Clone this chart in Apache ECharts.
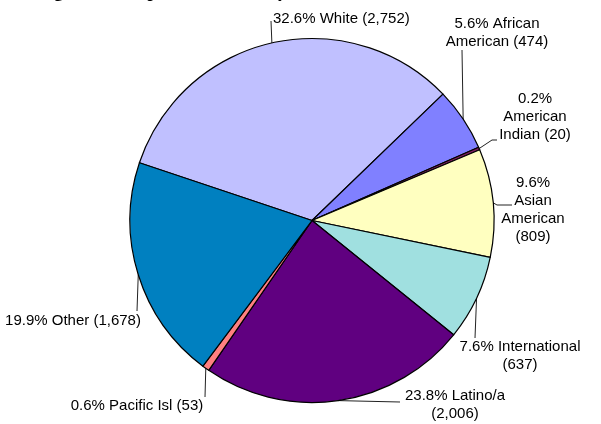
<!DOCTYPE html>
<html>
<head>
<meta charset="utf-8">
<script src="https://cdn.jsdelivr.net/npm/echarts@6/dist/echarts.min.js"></script>
<style>
html,body{margin:0;padding:0;background:#fff;}
#chart{width:601px;height:424px;}
</style>
</head>
<body>
<div id="chart"></div>
<script>
// ---- data ----
const titleText = 'Undergraduate Population Ethnicity';
const categories = ['White', 'African American', 'American Indian', 'Asian American', 'International', 'Latino/a', 'Pacific Isl', 'Other'];
const counts = [2752, 474, 20, 809, 637, 2006, 53, 1678];
const labelTemplates = [
  '{p}% White ({v})',
  '{p}% African\nAmerican ({v})',
  '{p}%\nAmerican\nIndian ({v})',
  '{p}%\nAsian\nAmerican\n({v})',
  '{p}% International\n({v})',
  '{p}% Latino/a\n({v})',
  '{p}% Pacific Isl ({v})',
  '{p}% Other ({v})'
];
const colors = ['#C0C0FF', '#8080FF', '#802060', '#FFFFC0', '#A0E0E0', '#600080', '#FF8080', '#0080C0'];

// ---- label placement (layout only) ----
const labelSpots = [
  {x: 273, y: 19,  align: 'left',   pts: [[271, 21]]},
  {x: 497, y: 33,  align: 'center', pts: [[462, 50]]},
  {x: 535, y: 117, align: 'center', pts: [[492, 140], [497, 140]]},
  {x: 533, y: 210, align: 'center', pts: [[497, 205], [512, 205]]},
  {x: 520, y: 356, align: 'center', pts: [[475, 338]]},
  {x: 455, y: 405, align: 'center', pts: [[400, 402]]},
  {x: 137, y: 406, align: 'center', pts: [[205, 397]]},
  {x: 73,  y: 321, align: 'center', pts: [[137, 311]]}
];

const total = counts.reduce((a, b) => a + b, 0);
const fmt = n => n.toLocaleString('en-US');
const seriesData = categories.map((c, i) => ({name: c, value: counts[i], itemStyle: {color: colors[i]}}));

const chart = echarts.init(document.getElementById('chart'), null, {renderer: 'canvas'});
chart.setOption({
  animation: false,
  backgroundColor: '#fff',
  title: {
    text: titleText,
    left: 0,
    top: -22,
    textStyle: {fontFamily: 'Liberation Serif', fontWeight: 'bold', fontSize: 18, color: '#000'}
  },
  series: [{
    type: 'pie',
    center: [312, 220.5],
    radius: 182,
    startAngle: 161.5,
    clockwise: true,
    data: seriesData,
    itemStyle: {borderColor: '#000', borderWidth: 1.2},
    emphasis: {disabled: true},
    label: {
      show: true,
      position: 'outside',
      overflow: 'none',
      fontFamily: 'Liberation Sans',
      fontSize: 15,
      lineHeight: 18,
      color: '#000',
      formatter: p => labelTemplates[p.dataIndex]
        .replace('{p}', (p.value / total * 100).toFixed(1))
        .replace('{v}', fmt(p.value))
    },
    labelLine: {show: true, length: 10, length2: 10, lineStyle: {color: '#222', width: 1}},
    labelLayout: function (params) {
      const s = labelSpots[params.dataIndex];
      const edge = params.labelLinePoints ? params.labelLinePoints[0] : s.pts[0];
      const pts = [edge].concat(s.pts);
      while (pts.length < 3) pts.push(pts[pts.length - 1]);
      return {x: s.x, y: s.y, align: s.align, verticalAlign: 'middle', width: 200, labelLinePoints: pts};
    }
  }]
});
</script>
</body>
</html>
